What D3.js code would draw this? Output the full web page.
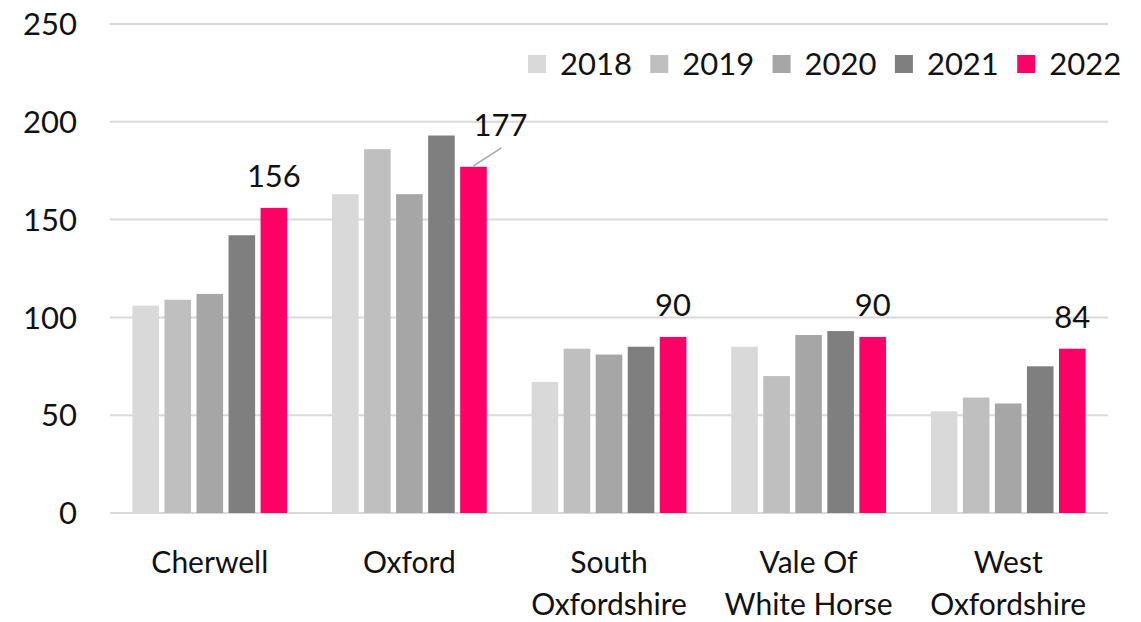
<!DOCTYPE html>
<html>
<head>
<meta charset="utf-8">
<script src="https://d3js.org/d3.v7.min.js"></script>
<style>
  body { margin: 0; background: #fff; }
  text { font-family: Lato, "Open Sans", sans-serif; fill: #111; }
</style>
</head>
<body>
  <div id="chart"></div>
  <script>
    var categories = ["Cherwell", "Oxford", "South Oxfordshire", "Vale Of White Horse", "West Oxfordshire"];
    var categoryLines = [["Cherwell"], ["Oxford"], ["South", "Oxfordshire"], ["Vale Of", "White Horse"], ["West", "Oxfordshire"]];
    var years = ["2018", "2019", "2020", "2021", "2022"];
    var values2018 = [106, 163, 67, 85, 52];
    var values2019 = [109, 186, 84, 70, 59];
    var values2020 = [112, 163, 81, 91, 56];
    var values2021 = [142, 193, 85, 93, 75];
    var values2022 = [156, 177, 90, 90, 84];
    var yTicks = [0, 50, 100, 150, 200, 250];
    var colors = ["#d9d9d9", "#bfbfbf", "#a6a6a6", "#7f7f7f", "#ff0066"];

    var series = [values2018, values2019, values2020, values2021, values2022];

    var width = 1141, height = 622;
    var margin = {top: 24, right: 33, bottom: 109, left: 110};

    var svg = d3.select("#chart")
      .append("svg")
      .attr("width", width)
      .attr("height", height);

    var x0 = d3.scaleBand()
      .domain(categories)
      .range([margin.left, width - margin.right])
      .padding(0);

    var x1 = d3.scaleBand()
      .domain(years)
      .range([0, x0.bandwidth()])
      .paddingInner(0.17)
      .paddingOuter(0.7);

    var y = d3.scaleLinear()
      .domain([0, 250])
      .range([height - margin.bottom, margin.top]);

    // gridlines
    svg.append("g")
      .selectAll("line")
      .data(yTicks)
      .enter().append("line")
      .attr("x1", margin.left)
      .attr("x2", width - margin.right)
      .attr("y1", d => y(d))
      .attr("y2", d => y(d))
      .style("stroke", "#d9d9d9")
      .style("stroke-width", 2);

    // y labels
    svg.append("g")
      .selectAll("text")
      .data(yTicks)
      .enter().append("text")
      .attr("x", 77)
      .attr("y", d => y(d))
      .attr("dy", "0.36em")
      .style("text-anchor", "end")
      .style("font-size", "31px")
      .text(d => d);

    // bars
    var rows = [];
    categories.forEach(function(c, ci) {
      years.forEach(function(yr, yi) {
        rows.push({cat: c, year: yr, yi: yi, value: series[yi][ci]});
      });
    });

    svg.append("g")
      .selectAll("rect")
      .data(rows)
      .enter().append("rect")
      .attr("x", d => x0(d.cat) + x1(d.year))
      .attr("y", d => y(d.value))
      .attr("width", x1.bandwidth())
      .attr("height", d => y(0) - y(d.value))
      .attr("fill", d => colors[d.yi]);

    // data labels for 2022
    var labels = svg.append("g");
    categories.forEach(function(c, ci) {
      var v = values2022[ci];
      var bx = x0(c) + x1("2022") + x1.bandwidth() / 2;
      var by = y(v);
      if (c == "Oxford") {
        labels.append("line")
          .attr("x1", bx)
          .attr("y1", by - 1)
          .attr("x2", bx + 28)
          .attr("y2", by - 19)
          .style("stroke", "#a6a6a6")
          .style("stroke-width", 1.5);
        labels.append("text")
          .attr("x", bx + 27)
          .attr("y", by - 42)
          .attr("dy", "0.36em")
          .style("text-anchor", "middle")
          .style("font-size", "31px")
          .text(v);
      } else {
        labels.append("text")
          .attr("x", bx)
          .attr("y", by - 32)
          .attr("dy", "0.36em")
          .style("text-anchor", "middle")
          .style("font-size", "31px")
          .text(v);
      }
    });

    // category labels
    var cl = svg.append("g")
      .selectAll("text")
      .data(categories)
      .enter().append("text")
      .attr("x", d => x0(d) + x0.bandwidth() / 2)
      .attr("y", 562)
      .style("text-anchor", "middle")
      .style("font-size", "30px");
    cl.each(function(d, i) {
      var t = d3.select(this);
      categoryLines[i].forEach(function(line, li) {
        t.append("tspan")
          .attr("x", x0(d) + x0.bandwidth() / 2)
          .attr("y", 562 + li * 42)
          .attr("dy", "0.36em")
          .text(line);
      });
    });

    // legend
    var legend = svg.append("g")
      .selectAll("g")
      .data(years)
      .enter().append("g")
      .attr("transform", (d, i) => "translate(" + (528 + i * 122.3) + ",64)");

    legend.append("rect")
      .attr("x", 0)
      .attr("y", -9)
      .attr("width", 18)
      .attr("height", 18)
      .attr("fill", (d, i) => colors[i]);

    legend.append("text")
      .attr("x", 32)
      .attr("y", 0)
      .attr("dy", "0.36em")
      .style("font-size", "31px")
      .text(d => d);
  </script>
</body>
</html>
